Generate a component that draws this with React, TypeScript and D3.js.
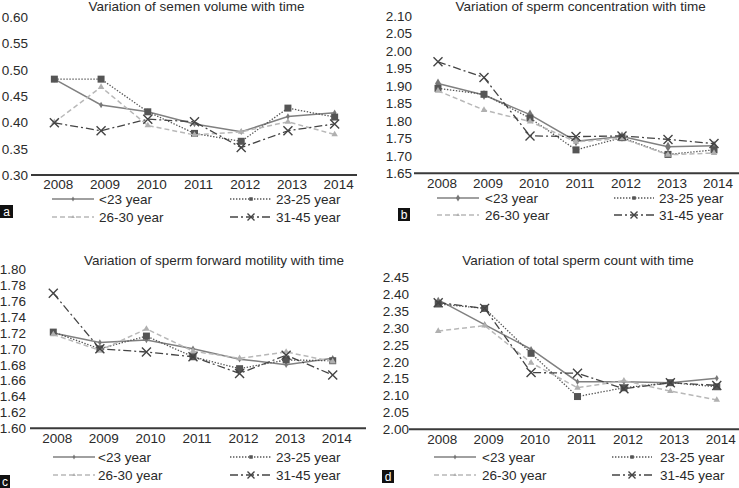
import React from "react";
import * as d3 from "d3";

const years = ["2008", "2009", "2010", "2011", "2012", "2013", "2014"];
const groups = ["<23 year", "23-25 year", "26-30 year", "31-45 year"];

const volLt23 = [0.482, 0.433, 0.42, 0.397, 0.382, 0.411, 0.418];
const vol2325 = [0.482, 0.482, 0.42, 0.379, 0.364, 0.427, 0.41];
const vol2630 = [0.4, 0.467, 0.394, 0.376, 0.382, 0.401, 0.377];
const vol3145 = [0.399, 0.384, 0.406, 0.401, 0.352, 0.384, 0.397];

const concLt23 = [1.907, 1.874, 1.818, 1.742, 1.755, 1.726, 1.729];
const conc2325 = [1.893, 1.876, 1.808, 1.717, 1.752, 1.704, 1.717];
const conc2630 = [1.886, 1.831, 1.798, 1.74, 1.75, 1.703, 1.708];
const conc3145 = [1.969, 1.924, 1.757, 1.755, 1.757, 1.747, 1.735];

const motLt23 = [1.72, 1.708, 1.711, 1.7, 1.687, 1.68, 1.688];
const mot2325 = [1.721, 1.7, 1.716, 1.69, 1.675, 1.686, 1.685];
const mot2630 = [1.718, 1.698, 1.725, 1.697, 1.688, 1.696, 1.684];
const mot3145 = [1.77, 1.7, 1.696, 1.69, 1.669, 1.692, 1.667];

const cntLt23 = [2.383, 2.31, 2.237, 2.141, 2.141, 2.138, 2.151];
const cnt2325 = [2.371, 2.358, 2.225, 2.097, 2.123, 2.138, 2.126];
const cnt2630 = [2.291, 2.307, 2.197, 2.123, 2.144, 2.113, 2.087];
const cnt3145 = [2.375, 2.358, 2.168, 2.166, 2.12, 2.138, 2.13];

const volTicks = [0.3, 0.35, 0.4, 0.45, 0.5, 0.55, 0.6];
const concTicks = [1.65, 1.7, 1.75, 1.8, 1.85, 1.9, 1.95, 2.0, 2.05, 2.1];
const motTicks = [1.6, 1.62, 1.64, 1.66, 1.68, 1.7, 1.72, 1.74, 1.76, 1.78, 1.8];
const cntTicks = [2.0, 2.05, 2.1, 2.15, 2.2, 2.25, 2.3, 2.35, 2.4, 2.45];

const titles = [
  "Variation of semen volume with time",
  "Variation of sperm concentration with time",
  "Variation of sperm forward motility with time",
  "Variation of total sperm count with time",
];
const letters = ["a", "b", "c", "d"];

const FONT = "'Liberation Sans', Arial, sans-serif";
const FS = 13.5;
const TXT = "#2a2a2a";

const styles = [
  { stroke: "#808080", dash: null, width: 1.5, marker: "diamond", fill: "#777", mstroke: "none" },
  { stroke: "#555", dash: "1.4,1.6", width: 1.3, marker: "square", fill: "#555", mstroke: "none" },
  { stroke: "#b8b8b8", dash: "5,3", width: 1.5, marker: "triangle", fill: "#b0b0b0", mstroke: "none" },
  { stroke: "#444", dash: "8,3,2,3", width: 1.3, marker: "x", fill: "none", mstroke: "#444" },
];

type Layout = {
  series: number[][];
  ticks: number[];
  yDomain: [number, number];
  yRange: [number, number];
  xRange: [number, number];
  axisX: [number, number];
  labelRight: number;
  yearBase: number;
  title: [number, number];
  legRows: [number, number];
  legCols: [[number, number, number], [number, number, number]];
  box: [number, number, number, number];
  diamondSize: number;
};

const layouts: Layout[] = [
  {
    series: [volLt23, vol2325, vol2630, vol3145],
    ticks: volTicks,
    yDomain: [0.3, 0.6],
    yRange: [175, 17],
    xRange: [31, 358],
    axisX: [31, 357],
    labelRight: 28,
    yearBase: 189,
    title: [196.5, 11],
    legRows: [199, 217],
    legCols: [[52, 94, 99], [230, 272, 276]],
    box: [0, 205, 13, 13],
    diamondSize: 4.5,
  },
  {
    series: [concLt23, conc2325, conc2630, conc3145],
    ticks: concTicks,
    yDomain: [1.65, 2.1],
    yRange: [173.3, 16],
    xRange: [415, 737],
    axisX: [414, 739],
    labelRight: 412,
    yearBase: 188,
    title: [580.7, 11],
    legRows: [198, 215],
    legCols: [[437, 479, 485], [614, 654, 659]],
    box: [398, 208, 12, 13],
    diamondSize: 7,
  },
  {
    series: [motLt23, mot2325, mot2630, mot3145],
    ticks: motTicks,
    yDomain: [1.6, 1.8],
    yRange: [428.3, 269.3],
    xRange: [30, 356],
    axisX: [30, 366],
    labelRight: 26,
    yearBase: 443,
    title: [214, 264.5],
    legRows: [457, 475],
    legCols: [[53, 95, 98], [230, 272, 276]],
    box: [0, 475, 10, 13],
    diamondSize: 4.5,
  },
  {
    series: [cntLt23, cnt2325, cnt2630, cnt3145],
    ticks: cntTicks,
    yDomain: [2.0, 2.45],
    yRange: [429.3, 277.3],
    xRange: [415, 740],
    axisX: [409, 739],
    labelRight: 409,
    yearBase: 444,
    title: [578, 264.5],
    legRows: [457, 475],
    legCols: [[434, 476, 482], [612, 652, 660]],
    box: [382, 470, 12, 13],
    diamondSize: 4.5,
  },
];

function Marker({ kind, x, y, size, fill, stroke }: any) {
  if (kind === "x") {
    const h = size / 2;
    return (
      <path
        d={`M${x - h},${y - h}L${x + h},${y + h}M${x - h},${y + h}L${x + h},${y - h}`}
        stroke={stroke}
        strokeWidth={1.4}
        fill="none"
      />
    );
  }
  let sym: any = d3.symbolSquare;
  let area = size * size;
  if (kind === "diamond") {
    sym = d3.symbolDiamond;
    area = (size * size) / 2 * 1.2;
  } else if (kind === "triangle") {
    sym = d3.symbolTriangle;
    area = (size * size * Math.sqrt(3)) / 4;
  }
  const p = d3.symbol().type(sym).size(area)() as string;
  return <path d={p} transform={`translate(${x},${y})`} fill={fill} />;
}

function Panel({ L, idx }: { L: Layout; idx: number }) {
  const x = d3.scaleBand<string>().domain(years).range(L.xRange);
  const y = d3.scaleLinear().domain(L.yDomain).range(L.yRange);
  const cx = (yr: string) => (x(yr) as number) + x.bandwidth() / 2;
  const line = d3
    .line<number>()
    .x((_, i) => cx(years[i]))
    .y((v) => y(v));
  const fmt = d3.format(".2f");
  const markerSizes = [L.diamondSize, 7, 6.5, 9];
  const legMarkerSizes = [idx === 1 ? 5 : 3.5, 3.5, 3.5, 7];
  return (
    <g>
      <text x={L.title[0]} y={L.title[1]} textAnchor="middle" fontSize={FS} fill={TXT}>
        {titles[idx]}
      </text>
      {L.ticks.map((t) => (
        <text key={t} x={L.labelRight} y={y(t)} dy="0.36em" textAnchor="end" fontSize={FS} fill={TXT}>
          {fmt(t)}
        </text>
      ))}
      <line x1={L.axisX[0]} x2={L.axisX[1]} y1={y(L.yDomain[0])} y2={y(L.yDomain[0])} stroke="#3a3a3a" strokeWidth={2} />
      {years.map((yr) => (
        <text key={yr} x={cx(yr) + 4} y={L.yearBase} textAnchor="middle" fontSize={FS} fill={TXT}>
          {yr}
        </text>
      ))}
      {L.series.map((s, si) => {
        const st = styles[si];
        return (
          <g key={si}>
            <path
              d={line(s) as string}
              fill="none"
              stroke={st.stroke}
              strokeWidth={st.width}
              strokeDasharray={st.dash || undefined}
            />
            {s.map((v, i) => (
              <Marker
                key={i}
                kind={st.marker}
                x={cx(years[i])}
                y={y(v)}
                size={markerSizes[si]}
                fill={st.fill}
                stroke={st.mstroke}
              />
            ))}
          </g>
        );
      })}
      {groups.map((g, gi) => {
        const row = L.legRows[Math.floor(gi / 2)];
        const col = L.legCols[gi % 2];
        const st = styles[gi];
        return (
          <g key={g}>
            <line
              x1={col[0]}
              x2={col[1]}
              y1={row}
              y2={row}
              stroke={st.stroke}
              strokeWidth={st.width}
              strokeDasharray={st.dash || undefined}
            />
            <Marker
              kind={st.marker}
              x={(col[0] + col[1]) / 2}
              y={row}
              size={legMarkerSizes[gi]}
              fill={st.fill}
              stroke={st.mstroke}
            />
            <text x={col[2]} y={row} dy="0.36em" fontSize={FS} fill={TXT}>
              {g}
            </text>
          </g>
        );
      })}
      <rect x={L.box[0]} y={L.box[1]} width={L.box[2]} height={L.box[3]} fill="#111" />
      <text
        x={L.box[0] + L.box[2] / 2}
        y={L.box[1] + L.box[3] / 2}
        dy="0.36em"
        textAnchor="middle"
        fontSize={12}
        fill="#fff"
      >
        {letters[idx]}
      </text>
    </g>
  );
}

export default function App() {
  return (
    <div style={{ position: "fixed", left: 0, top: 0, width: 739, height: 488, background: "#fff" }}>
      <svg width={739} height={488} style={{ display: "block", fontFamily: FONT }}>
        <rect width={739} height={488} fill="#fff" />
        {layouts.map((L, i) => (
          <Panel key={i} L={L} idx={i} />
        ))}
      </svg>
    </div>
  );
}
